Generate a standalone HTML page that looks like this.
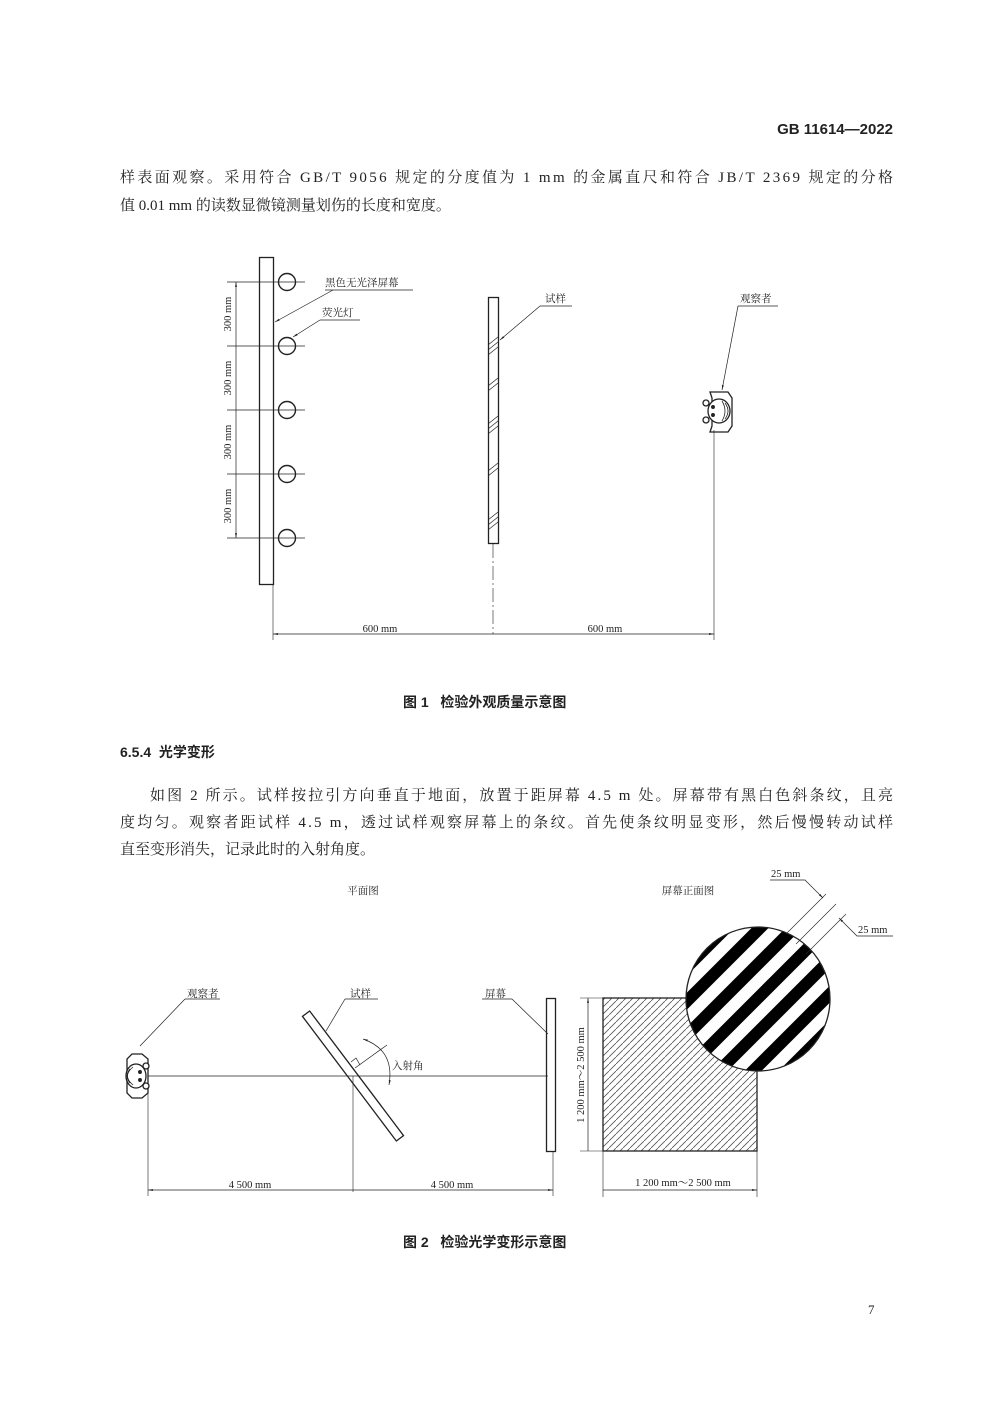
<!DOCTYPE html>
<html><head><meta charset="utf-8"><style>
html,body{margin:0;padding:0;background:#fff}
svg{display:block}
text{font-family:"Liberation Serif","Noto Serif CJK SC","Noto Sans CJK SC",serif;fill:#222}
.s{font-size:10.5px}
.b{font-size:15px}
.h{font-family:"Liberation Sans","Noto Sans CJK SC",sans-serif;font-weight:bold;font-size:14px}
</style></head><body>
<svg width="1000" height="1413" viewBox="0 0 1000 1413" xmlns="http://www.w3.org/2000/svg">
<defs>
<marker id="a" viewBox="0 0 10 10" refX="10" refY="5" markerWidth="7" markerHeight="7" orient="auto-start-reverse"><path d="M0,3 L10,5 L0,7z" fill="#222"/></marker>
<pattern id="hat" width="7" height="7" patternUnits="userSpaceOnUse"><path d="M-1,8 L8,-1" stroke="#555" stroke-width="0.8"/></pattern>
<clipPath id="cc"><circle cx="758" cy="999" r="72"/></clipPath>
</defs>
<text x="893" y="134" text-anchor="end" style="font-family:'Liberation Sans',sans-serif;font-weight:bold;font-size:15px">GB 11614—2022</text>
<text class="b" x="120" y="182" textLength="773" lengthAdjust="spacing">样表面观察。采用符合 GB/T 9056 规定的分度值为 1 mm 的金属直尺和符合 JB/T 2369 规定的分格</text>
<text class="b" x="120" y="210">值 0.01 mm 的读数显微镜测量划伤的长度和宽度。</text>

<!-- Figure 1 -->
<g fill="none" stroke="#222" stroke-width="1">
<rect x="259.5" y="257.5" width="14" height="327" stroke-width="1.3"/>
<g stroke-width="1.4">
<circle cx="287" cy="282" r="8.5"/><circle cx="287" cy="346" r="8.5"/><circle cx="287" cy="410" r="8.5"/><circle cx="287" cy="474" r="8.5"/><circle cx="287" cy="538" r="8.5"/>
</g>
<path d="M227,282H305M227,346H305M227,410H305M227,474H305M227,538H305" stroke-width="0.7"/>
<path d="M236,282V346M236,346V410M236,410V474M236,474V538" stroke-width="0.7" marker-start="url(#a)" marker-end="url(#a)"/>
<path d="M325,290H413" stroke-width="0.7"/>
<path d="M333,290L275,322" stroke-width="0.7" marker-end="url(#a)"/>
<path d="M320,320H360" stroke-width="0.7"/>
<path d="M320,320L293,337" stroke-width="0.7" marker-end="url(#a)"/>
<rect x="488.5" y="297.5" width="10" height="246" stroke-width="1.3"/>
<path d="M488,345L498,337M488,350L498,342M488,355L498,347M488,386L498,378M488,391L498,383M488,424L498,416M488,429L498,421M488,434L498,426M488,471L498,463M488,476L498,468M488,520L498,512M488,525L498,517M488,530L498,522" stroke-width="0.7"/>
<path d="M493,544V634" stroke-width="0.6" stroke-dasharray="14,3,2,3"/>
<path d="M540,306H572" stroke-width="0.7"/>
<path d="M540,306L500,340" stroke-width="0.7" marker-end="url(#a)"/>
<path d="M738,306H778" stroke-width="0.7"/>
<path d="M738,306L722,390" stroke-width="0.7" marker-end="url(#a)"/>
<path d="M273,585V640M714,430V640" stroke-width="0.6"/>
<path d="M273,634H493M493,634H714" stroke-width="0.7" marker-start="url(#a)" marker-end="url(#a)"/>
</g>
<!-- observer 1 -->
<g fill="none" stroke="#222" stroke-width="1.3">
<path d="M710,392H728L732,398V426L728,432H710L712,426V398Z"/>
<ellipse cx="719" cy="411" rx="11" ry="12" fill="#fff"/>
<path d="M722,401Q728,411 722,421M725,403Q731,411 725,419" stroke-width="0.8"/>
<circle cx="706" cy="403" r="3" fill="#fff"/><circle cx="706" cy="420" r="3" fill="#fff"/>
<circle cx="713" cy="407" r="1.3" fill="#222"/><circle cx="713" cy="415" r="1.3" fill="#222"/>
</g>
<g class="s">
<text x="325" y="286">黑色无光泽屏幕</text>
<text x="322" y="316">荧光灯</text>
<text x="545" y="302">试样</text>
<text x="740" y="302">观察者</text>
<text x="380" y="632" text-anchor="middle">600 mm</text>
<text x="605" y="632" text-anchor="middle">600 mm</text>
<text transform="translate(231,314) rotate(-90)" text-anchor="middle">300 mm</text>
<text transform="translate(231,378) rotate(-90)" text-anchor="middle">300 mm</text>
<text transform="translate(231,442) rotate(-90)" text-anchor="middle">300 mm</text>
<text transform="translate(231,506) rotate(-90)" text-anchor="middle">300 mm</text>
</g>
<text class="h" x="403" y="707">图 1&#160;&#160;&#160;检验外观质量示意图</text>

<text class="h" x="120" y="757">6.5.4&#160;&#160;光学变形</text>
<text class="b" x="150" y="800" textLength="743" lengthAdjust="spacing">如图 2 所示。试样按拉引方向垂直于地面，放置于距屏幕 4.5 m 处。屏幕带有黑白色斜条纹，且亮</text>
<text class="b" x="120" y="827" textLength="773" lengthAdjust="spacing">度均匀。观察者距试样 4.5 m，透过试样观察屏幕上的条纹。首先使条纹明显变形，然后慢慢转动试样</text>
<text class="b" x="120" y="854">直至变形消失，记录此时的入射角度。</text>

<!-- Figure 2 -->
<g class="s">
<text x="363" y="894" text-anchor="middle">平面图</text>
<text x="688" y="894" text-anchor="middle">屏幕正面图</text>
<text x="187" y="997">观察者</text>
<text x="350" y="997">试样</text>
<text x="485" y="997">屏幕</text>
<text x="392" y="1069">入射角</text>
<text x="250" y="1188" text-anchor="middle">4 500 mm</text>
<text x="452" y="1188" text-anchor="middle">4 500 mm</text>
<text x="771" y="877">25 mm</text>
<text x="858" y="933">25 mm</text>
<text x="683" y="1186" text-anchor="middle">1 200 mm～2 500 mm</text>
<text transform="translate(584,1075) rotate(-90)" text-anchor="middle">1 200 mm～2 500 mm</text>
</g>
<g fill="none" stroke="#222" stroke-width="1">
<path d="M148,1076H548" stroke-width="0.7"/>
<g transform="translate(353,1076) rotate(53)">
<rect x="-78" y="-4.5" width="156" height="9" stroke-width="1.3"/>
</g>
<path d="M353,1076V1192M148,1085V1196M553,1152V1196" stroke-width="0.6"/>
<path d="M148,1190H350M350,1190H553" stroke-width="0.7" marker-start="url(#a)" marker-end="url(#a)"/>
<rect x="546.5" y="998.5" width="9" height="153" stroke-width="1.3"/>
<path d="M355,1068L387,1045" stroke-width="0.7"/>
<path d="M351,1062L356,1058L360,1065" stroke-width="0.7"/>
<path d="M363,1039Q395,1050 389,1085" stroke-width="0.7" marker-start="url(#a)" marker-end="url(#a)"/>
<path d="M185,999H220M185,999L140,1046" stroke-width="0.7"/>
<path d="M345,999H378M345,999L326,1031" stroke-width="0.7"/>
<path d="M482,999H512M512,999L548,1034" stroke-width="0.7"/>
<!-- screen front -->
<rect x="603" y="998" width="154" height="153" fill="url(#hat)" stroke-width="1.3"/>
<g clip-path="url(#cc)">
<rect x="680" y="920" width="160" height="160" fill="#fff" stroke="none"/>
<g stroke="#000" stroke-width="12">
<path d="M547,1005L747,805M564,1022L764,822M581,1039L781,839M598,1056L798,856M615,1073L815,873M632,1090L832,890M649,1107L849,907M666,1124L866,924M683,1141L883,941M700,1158L900,958M717,1175L917,975M734,1192L934,992M751,1209L951,1009M768,1226L968,1026" stroke-dasharray="none"/>
</g>
</g>
<circle cx="758" cy="999" r="72" stroke-width="1.3"/>
<path d="M786,934L826,894M796,944L836,904M806,954L846,914" stroke-width="0.6"/>
<path d="M770,880H805L823,898" stroke-width="0.7" marker-end="url(#a)"/>
<path d="M893,936H857L839,918" stroke-width="0.7" marker-end="url(#a)"/>
<path d="M580,998H603M580,1151H603M603,1151V1197M757,1151V1197" stroke-width="0.6"/>
<path d="M588,998V1151M603,1190H757" stroke-width="0.7" marker-start="url(#a)" marker-end="url(#a)"/>
</g>
<!-- observer 2 -->
<g transform="translate(136,1076) rotate(-90)" fill="none" stroke="#222" stroke-width="1.3">
<path d="M-17,-9H17L22,-4V6L17,12H-17L-22,6V-4Z"/>
<ellipse cx="0" cy="0" rx="12" ry="10" fill="#fff"/>
<path d="M-9,-3Q0,-14 9,-3M-7,-6Q0,-12 7,-6" stroke-width="0.8"/>
<circle cx="-10" cy="10" r="3" fill="#fff"/><circle cx="10" cy="10" r="3" fill="#fff"/>
<circle cx="-4" cy="4" r="1.3" fill="#222"/><circle cx="4" cy="4" r="1.3" fill="#222"/>
</g>
<text class="h" x="403" y="1247">图 2&#160;&#160;&#160;检验光学变形示意图</text>
<text x="868" y="1314" style="font-size:13px">7</text>
</svg>
</body></html>
